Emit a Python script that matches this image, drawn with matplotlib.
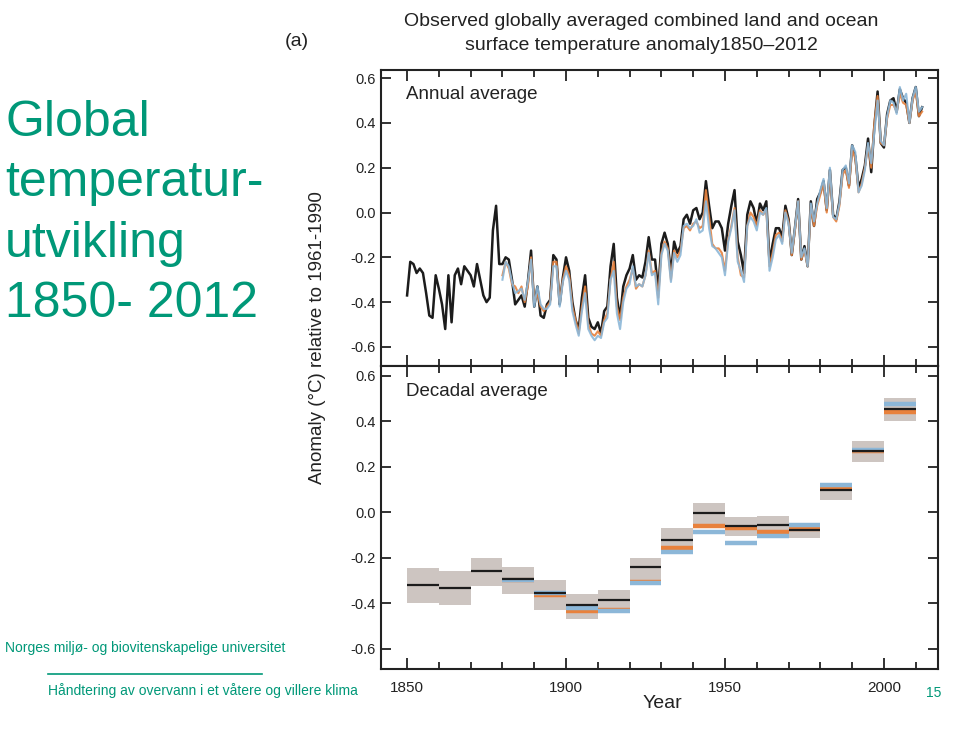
import matplotlib.pyplot as plt
import numpy as np

plt.rcParams['font.family'] = ['Liberation Sans', 'DejaVu Sans']

# annual anomalies, black series 1850-2012
years_black = np.arange(1850, 2013)
black = [-0.37, -0.22, -0.23, -0.27, -0.25, -0.27, -0.36, -0.46, -0.47, -0.28,
         -0.34, -0.41, -0.52, -0.28, -0.49, -0.28, -0.25, -0.32, -0.24, -0.26,
         -0.28, -0.33, -0.23, -0.30, -0.37, -0.40, -0.38, -0.08, 0.03, -0.23,
         -0.23, -0.20, -0.21, -0.30, -0.41, -0.39, -0.37, -0.42, -0.31, -0.17,
         -0.42, -0.33, -0.46, -0.47, -0.41, -0.39, -0.19, -0.21, -0.41, -0.29,
         -0.20, -0.26, -0.40, -0.48, -0.52, -0.38, -0.28, -0.47, -0.51, -0.52,
         -0.49, -0.54, -0.44, -0.42, -0.24, -0.14, -0.38, -0.47, -0.33, -0.28,
         -0.25, -0.19, -0.30, -0.28, -0.29, -0.22, -0.11, -0.21, -0.21, -0.35,
         -0.14, -0.09, -0.14, -0.27, -0.13, -0.18, -0.15, -0.03, -0.01, -0.05,
         0.01, 0.02, -0.03, 0.00, 0.14, 0.03, -0.07, -0.04, -0.04, -0.07,
         -0.17, -0.05, 0.03, 0.10, -0.13, -0.19, -0.27, -0.01, 0.05, 0.02,
         -0.05, 0.04, 0.01, 0.05, -0.22, -0.14, -0.07, -0.07, -0.11, 0.03,
         -0.03, -0.19, -0.07, 0.06, -0.21, -0.15, -0.24, 0.05, -0.06, 0.06,
         0.09, 0.14, 0.01, 0.19, -0.01, -0.03, 0.05, 0.19, 0.20, 0.12,
         0.30, 0.25, 0.11, 0.15, 0.21, 0.33, 0.18, 0.39, 0.54, 0.31,
         0.29, 0.44, 0.50, 0.51, 0.45, 0.55, 0.51, 0.49, 0.40, 0.51,
         0.56, 0.43, 0.47]

# orange and blue series 1880-2012
years_col = np.arange(1880, 2013)
orange = [-0.28, -0.22, -0.25, -0.32, -0.33, -0.36, -0.33, -0.40, -0.33, -0.20,
          -0.40, -0.36, -0.42, -0.44, -0.42, -0.40, -0.22, -0.22, -0.40, -0.30,
          -0.24, -0.28, -0.42, -0.48, -0.54, -0.42, -0.33, -0.50, -0.54, -0.55,
          -0.53, -0.55, -0.48, -0.45, -0.30, -0.22, -0.42, -0.48, -0.38, -0.33,
          -0.30, -0.25, -0.34, -0.32, -0.33, -0.28, -0.17, -0.27, -0.26, -0.38,
          -0.18, -0.13, -0.16, -0.30, -0.17, -0.20, -0.17, -0.07, -0.06, -0.08,
          -0.05, -0.04, -0.07, -0.06, 0.10, -0.02, -0.14, -0.16, -0.16, -0.18,
          -0.26, -0.12, -0.06, 0.02, -0.20, -0.28, -0.29, -0.06, 0.00, -0.02,
          -0.06, 0.01, -0.01, 0.01, -0.24, -0.18, -0.10, -0.09, -0.13, 0.01,
          -0.04, -0.19, -0.08, 0.05, -0.21, -0.17, -0.24, 0.03, -0.06, 0.03,
          0.08, 0.13, 0.00, 0.18, -0.02, -0.04, 0.03, 0.17, 0.19, 0.11,
          0.28, 0.24, 0.09, 0.13, 0.20, 0.30, 0.20, 0.40, 0.52, 0.31,
          0.30, 0.42, 0.48, 0.48, 0.45, 0.53, 0.49, 0.48, 0.40, 0.50,
          0.54, 0.43, 0.45]
blue = [-0.30, -0.22, -0.24, -0.31, -0.36, -0.35, -0.34, -0.39, -0.31, -0.21,
        -0.42, -0.33, -0.41, -0.43, -0.43, -0.41, -0.24, -0.24, -0.42, -0.31,
        -0.26, -0.30, -0.44, -0.50, -0.55, -0.44, -0.36, -0.52, -0.55, -0.57,
        -0.55, -0.56, -0.49, -0.47, -0.30, -0.26, -0.45, -0.52, -0.40, -0.34,
        -0.32, -0.24, -0.33, -0.32, -0.33, -0.28, -0.18, -0.28, -0.27, -0.41,
        -0.19, -0.14, -0.17, -0.31, -0.18, -0.22, -0.19, -0.06, -0.05, -0.07,
        -0.06, -0.03, -0.09, -0.08, 0.05, -0.07, -0.15, -0.16, -0.18, -0.20,
        -0.28, -0.13, -0.07, 0.01, -0.22, -0.26, -0.31, -0.06, -0.02, -0.04,
        -0.08, 0.00, -0.01, 0.02, -0.26, -0.20, -0.12, -0.10, -0.14, 0.00,
        -0.05, -0.18, -0.07, 0.05, -0.20, -0.16, -0.24, 0.04, -0.04, 0.04,
        0.10, 0.15, 0.02, 0.20, -0.02, -0.03, 0.04, 0.19, 0.21, 0.13,
        0.30, 0.27, 0.09, 0.12, 0.19, 0.31, 0.22, 0.36, 0.50, 0.32,
        0.30, 0.43, 0.50, 0.49, 0.44, 0.56, 0.50, 0.53, 0.40, 0.51,
        0.56, 0.45, 0.47]

# decadal averages
decades = [1850, 1860, 1870, 1880, 1890, 1900, 1910, 1920, 1930, 1940,
           1950, 1960, 1970, 1980, 1990, 2000]
dec_lo = [-0.40, -0.41, -0.325, -0.36, -0.43, -0.47, -0.445, -0.30, -0.18, -0.05,
          -0.105, -0.105, -0.113, 0.053, 0.22, 0.40]
dec_hi = [-0.246, -0.26, -0.20, -0.24, -0.30, -0.36, -0.34, -0.20, -0.07, 0.04,
          -0.02, -0.018, -0.048, 0.128, 0.312, 0.505]
dec_black = [-0.32, -0.335, -0.26, -0.295, -0.357, -0.41, -0.387, -0.243, -0.12, -0.005,
             -0.06, -0.058, -0.08, 0.097, 0.268, 0.453]
dec_orange = [None, None, None, -0.30, -0.365, -0.435, -0.43, -0.305, -0.158, -0.06,
              -0.07, -0.088, -0.075, 0.105, 0.27, 0.44]
dec_blue = [None, None, None, -0.30, -0.355, -0.42, -0.435, -0.31, -0.175, -0.088,
            -0.137, -0.105, -0.058, 0.118, 0.275, 0.475]

c_black = '#1c1c1c'
c_orange = '#e8813c'
c_blue = '#8cb7d8'
c_box = '#cdc5c1'
green = '#009878'

fig = plt.figure(figsize=(9.6, 7.31), dpi=100)
W, H = 960, 731

def frac(l, t, r, b):
    return [l / W, 1 - b / H, (r - l) / W, (b - t) / H]

ax1 = fig.add_axes(frac(381, 70, 938, 366))
ax2 = fig.add_axes(frac(381, 366, 938, 669))

ax1.plot(years_black, black, color=c_black, lw=1.8, zorder=3)
ax1.plot(years_col, orange, color=c_orange, lw=1.5, alpha=0.9, zorder=4)
ax1.plot(years_col, blue, color=c_blue, lw=1.5, alpha=0.9, zorder=5)

ax2.bar(decades, np.array(dec_hi) - np.array(dec_lo), bottom=dec_lo, width=10,
        align='edge', color=c_box, linewidth=0, zorder=1)
for d, o, b, k in zip(decades, dec_orange, dec_blue, dec_black):
    if o is not None:
        ax2.hlines(o, d, d + 10, color=c_orange, lw=3.2, zorder=2)
    if b is not None:
        ax2.hlines(b, d, d + 10, color=c_blue, lw=3.2, zorder=3)
    ax2.hlines(k, d, d + 10, color=c_black, lw=1.6, zorder=4)

for ax, ylim in ((ax1, (-0.685, 0.636)), (ax2, (-0.69, 0.644))):
    ax.set_xlim(1841.8, 2017)
    ax.set_ylim(*ylim)
    ax.set_yticks([-0.6, -0.4, -0.2, 0.0, 0.2, 0.4, 0.6])
    ax.set_yticklabels(['-0.6', '-0.4', '-0.2', '0.0', '0.2', '0.4', '0.6'])
    ax.set_xticks([1850, 1900, 1950, 2000])
    ax.set_xticks(np.arange(1860, 2011, 10), minor=True)
    ax.tick_params(axis='both', which='both', direction='in', top=True, right=True,
                   color='#222222', width=1.3, labelsize=10.5, labelcolor='#222222')
    ax.tick_params(axis='x', which='major', length=8)
    ax.tick_params(axis='x', which='minor', length=5)
    ax.tick_params(axis='y', which='major', length=7, labelright=False, pad=4)
    ax.tick_params(axis='y', which='minor', left=False, right=False)
    for s in ax.spines.values():
        s.set_linewidth(1.5)
        s.set_color('#222222')

ax1.tick_params(axis='x', labelbottom=False)
ax2.tick_params(axis='x', which='major', pad=9, labelsize=11)

ax1.text(0.045, 0.945, 'Annual average', transform=ax1.transAxes, fontsize=13.5,
         color='#222222', va='top')
ax2.text(0.045, 0.945, 'Decadal average', transform=ax2.transAxes, fontsize=13.5,
         color='#222222', va='top')

fig.text(641 / W, 1 - 21 / H, 'Observed globally averaged combined land and ocean',
         ha='center', va='center', fontsize=14, color='#222222')
fig.text(641 / W, 1 - 45 / H, 'surface temperature anomaly1850\u20132012',
         ha='center', va='center', fontsize=14, color='#222222')
fig.text(297 / W, 1 - 42 / H, '(a)', ha='center', va='center', fontsize=14, color='#222222')
fig.text(318 / W, 1 - 338 / H, 'Anomaly (\u00b0C) relative to 1961-1990', rotation=90,
         ha='center', va='center', fontsize=13.5, color='#222222')
fig.text(662 / W, 1 - 704 / H, 'Year', ha='center', va='center', fontsize=14, color='#222222')

fig.text(5 / W, 1 - 317 / H, 'Global\ntemperatur-\nutvikling\n1850- 2012',
         ha='left', va='baseline', fontsize=36, color=green, linespacing=1.4)
fig.text(5 / W, 1 - 648 / H, 'Norges milj\u00f8- og biovitenskapelige universitet',
         ha='left', va='center', fontsize=10, color=green)
fig.add_artist(plt.Line2D([48 / W, 262 / W], [1 - 674 / H, 1 - 674 / H],
                          color=green, lw=1.2, transform=fig.transFigure))
fig.text(48 / W, 1 - 691 / H, 'H\u00e5ndtering av overvann i et v\u00e5tere og villere klima',
         ha='left', va='center', fontsize=10, color=green)
fig.text(934 / W, 1 - 693 / H, '15', ha='center', va='center', fontsize=10, color=green)

fig.savefig('out.png', dpi=100)
